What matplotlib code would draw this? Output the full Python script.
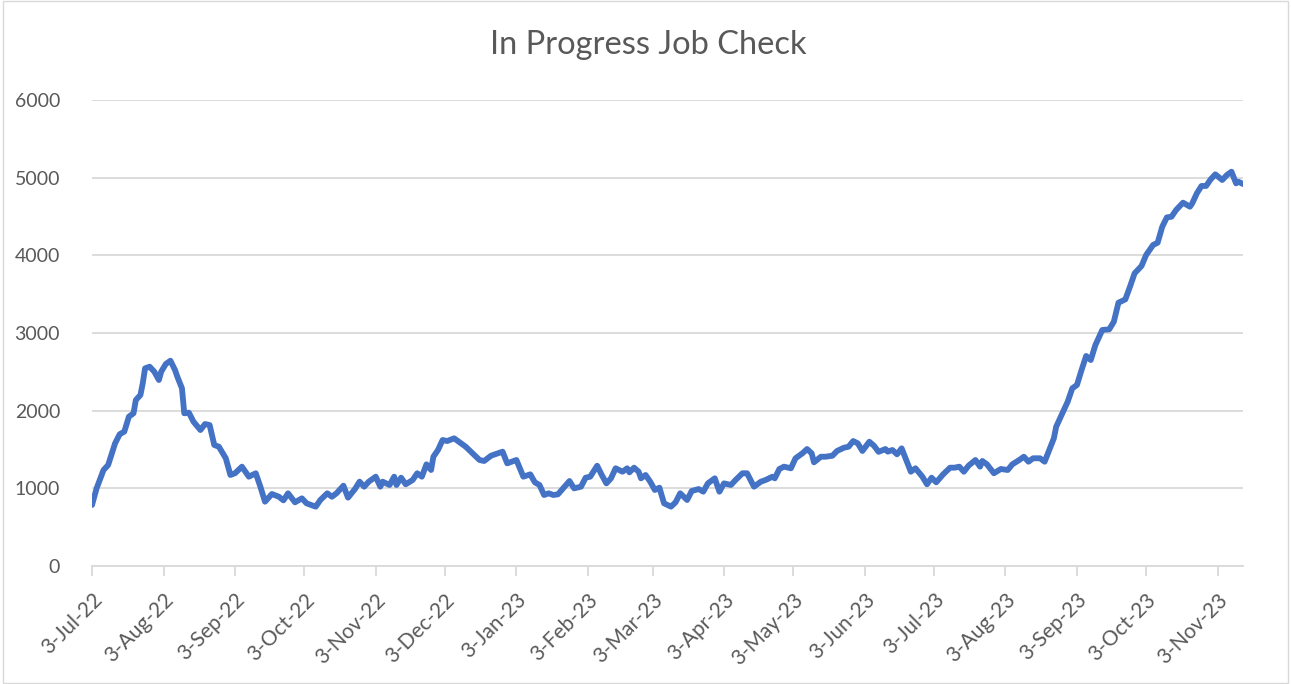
import pandas as pd
import matplotlib
matplotlib.use("Agg")
import matplotlib.pyplot as plt
from matplotlib.patches import Rectangle

# days after 3-Jul-22 and the in-progress job count
start_date = "2022-07-03"
day_offsets = [
    0, 2, 5, 7, 10, 12, 14, 16, 18, 19, 21, 22, 23, 25, 27, 29, 30, 32, 34, 36,
    37, 39, 40, 42, 44, 47, 49, 51, 53, 55, 58, 60, 62, 65, 68, 71, 73, 75, 78, 81,
    83, 85, 88, 91, 93, 97, 99, 102, 104, 106, 109, 111, 114, 116, 118, 120, 123, 125, 126, 129,
    131, 132, 134, 136, 139, 141, 143, 145, 147, 148, 150, 152, 154, 157, 160, 162, 165, 168, 170, 173,
    178, 180, 184, 187, 190, 192, 194, 196, 198, 200, 202, 204, 207, 209, 212, 214, 216, 219, 221, 223,
    225, 227, 230, 232, 233, 235, 237, 238, 240, 242, 244, 246, 248, 251, 253, 255, 258, 260, 263, 265,
    267, 270, 272, 274, 277, 279, 282, 284, 287, 290, 292, 295, 296, 298, 300, 303, 305, 308, 310, 312,
    313, 316, 318, 321, 323, 326, 328, 330, 332, 334, 337, 339, 341, 344, 345, 347, 349, 351, 353, 355,
    357, 360, 362, 364, 366, 369, 372, 374, 376, 378, 380, 383, 385, 386, 388, 391, 394, 397, 399, 402,
    404, 406, 408, 411, 413, 415, 417, 418, 420, 423, 425, 427, 429, 431, 433, 435, 438, 441, 443, 445,
    448, 450, 452, 455, 457, 460, 462, 464, 466, 468, 470, 473, 476, 477, 479, 481, 483, 485, 487, 490,
    492, 494, 496, 497, 499,
]
jobs = [
    785, 1000, 1236, 1300, 1579, 1696, 1730, 1923, 1966, 2137, 2202, 2352, 2545, 2566, 2502, 2395, 2502, 2601, 2643, 2523,
    2437, 2288, 1966, 1974, 1858, 1751, 1828, 1815, 1558, 1536, 1387, 1172, 1194, 1279, 1150, 1194, 1021, 828, 927, 892,
    845, 936, 820, 871, 807, 764, 850, 936, 892, 936, 1034, 880, 991, 1086, 1021, 1086, 1150, 1021, 1086, 1043,
    1150, 1043, 1137, 1052, 1107, 1194, 1150, 1309, 1236, 1407, 1494, 1622, 1609, 1644, 1579, 1536, 1451, 1365, 1352, 1420,
    1472, 1322, 1365, 1150, 1180, 1077, 1043, 914, 936, 914, 923, 991, 1094, 1000, 1021, 1137, 1150, 1291, 1172, 1064,
    1129, 1258, 1214, 1258, 1206, 1266, 1214, 1129, 1172, 1086, 979, 1008, 807, 764, 820, 936, 850, 966, 991, 957,
    1064, 1129, 957, 1064, 1043, 1107, 1194, 1194, 1021, 1086, 1107, 1150, 1129, 1249, 1279, 1258, 1387, 1451, 1506, 1451,
    1335, 1407, 1407, 1420, 1481, 1523, 1536, 1609, 1579, 1481, 1600, 1549, 1470, 1506, 1472, 1494, 1438, 1515, 1365, 1214,
    1258, 1150, 1052, 1137, 1077, 1180, 1266, 1266, 1279, 1214, 1291, 1365, 1279, 1352, 1309, 1194, 1249, 1236, 1309, 1365,
    1407, 1343, 1387, 1387, 1343, 1494, 1644, 1793, 1923, 2116, 2288, 2330, 2523, 2704, 2652, 2845, 3039, 3047, 3145, 3390,
    3433, 3596, 3768, 3863, 4004, 4133, 4163, 4369, 4489, 4497, 4584, 4678, 4626, 4670, 4799, 4893, 4893, 4979, 5043, 4970,
    5034, 5077, 4927, 4948, 4918,
]
y_ticks = [0, 1000, 2000, 3000, 4000, 5000, 6000]

grey_text = "#595959"
grid_grey = "#d9d9d9"
line_blue = "#4472c4"

dates = pd.Timestamp(start_date) + pd.to_timedelta(day_offsets, unit="D")
month_ticks = pd.date_range(start_date, "2023-11-03", freq=pd.DateOffset(months=1))
tick_labels = [f"{d.day}-{d.strftime('%b-%y')}" for d in month_ticks]

plt.rcParams["font.family"] = ["Lato", "DejaVu Sans"]

fig = plt.figure(figsize=(12.91, 6.84), dpi=100)
ax = fig.add_axes([92 / 1291, 1 - 566 / 684, (1243 - 92) / 1291, (566 - 100) / 684])

ax.plot(dates, jobs, color=line_blue, linewidth=4.2, solid_joinstyle="round", solid_capstyle="round", zorder=3)

ax.set_ylim(0, 6000)
ax.set_yticks(y_ticks)
ax.set_xlim(dates[0], dates[-1])
ax.set_xticks(month_ticks)
ax.set_xticklabels(tick_labels, rotation=45, ha="right", rotation_mode="anchor")

ax.grid(axis="y", color=grid_grey, linewidth=1.3)
ax.set_axisbelow(True)
for side in ["top", "right", "left"]:
    ax.spines[side].set_visible(False)
ax.spines["bottom"].set_color(grid_grey)
ax.spines["bottom"].set_linewidth(1.3)

ax.tick_params(axis="x", colors=grid_grey, length=7, width=1.3, labelcolor=grey_text, labelsize=15, pad=10)
ax.tick_params(axis="y", length=0, labelcolor=grey_text, labelsize=14, pad=23)

fig.text(648 / 1291, 1 - 45 / 684, "In Progress Job Check", ha="center", va="center",
         fontsize=23.5, color=grey_text)

# light chart border
fig.patches.append(Rectangle((0.002, 0.002), 0.996, 0.996, transform=fig.transFigure,
                             fill=False, edgecolor=grid_grey, linewidth=1.0))

fig.savefig("out.png", dpi=100)
